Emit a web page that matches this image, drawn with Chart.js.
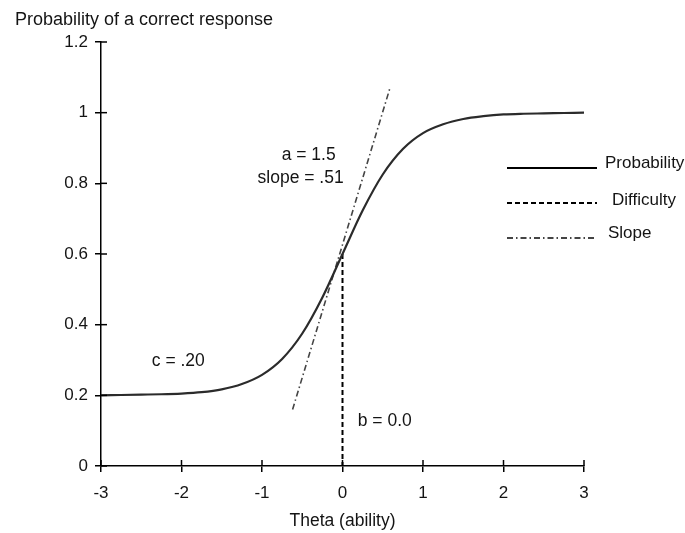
<!DOCTYPE html>
<html>
<head>
<meta charset="utf-8">
<script src="https://cdn.jsdelivr.net/npm/chart.js@4/dist/chart.umd.min.js"></script>
<style>
  html, body { margin: 0; padding: 0; background: #fff; }
  canvas { display: block; }
</style>
</head>
<body>
<canvas id="c" width="685" height="533"></canvas>
<script>
// ---- data ----
const thetaValues = [-3, -2.75, -2.5, -2.25, -2, -1.75, -1.5, -1.25, -1, -0.75, -0.5, -0.25, 0, 0.25, 0.5, 0.75, 1, 1.25, 1.5, 1.75, 2, 2.25, 2.5, 2.75, 3];
const probabilityValues = [0.200, 0.201, 0.202, 0.203, 0.205, 0.209, 0.217, 0.232, 0.258, 0.303, 0.375, 0.477, 0.600, 0.723, 0.825, 0.897, 0.942, 0.967, 0.982, 0.990, 0.995, 0.997, 0.998, 0.999, 1.000];
const difficultyTheta = [0, 0];
const difficultyValues = [0.6, 0];
const slopeTheta = [-0.62, 0.59];
const slopeValues = [0.16, 1.07];
const seriesLabels = ['Probability', 'Difficulty', 'Slope'];
const xTickLabels = ['-3', '-2', '-1', '0', '1', '2', '3'];
const yTickLabels = ['0', '0.2', '0.4', '0.6', '0.8', '1', '1.2'];
const yAxisTitle = 'Probability of a correct response';
const xAxisTitle = 'Theta (ability)';
const annotations = [
  { text: 'a = 1.5', x: -0.42, y: 0.881 },
  { text: 'slope = .51', x: -0.52, y: 0.816 },
  { text: 'c = .20', x: -2.04, y: 0.2955 },
  { text: 'b = 0.0', x: 0.525, y: 0.1255 }
];

const FAMILY = '"Liberation Sans", Arial, sans-serif';
const TEXT = '#141414';

function pts(xs, ys) { return xs.map((x, i) => ({ x: x, y: ys[i] })); }

const decorPlugin = {
  id: 'decor',
  afterDraw(chart) {
    const ctx = chart.ctx;
    const xs = chart.scales.x, ys = chart.scales.y;
    const area = chart.chartArea;
    ctx.save();
    // inner halves of the crossing tick marks
    ctx.strokeStyle = '#000';
    ctx.lineWidth = 1.5;
    ctx.setLineDash([]);
    xs.ticks.forEach(t => {
      const px = xs.getPixelForValue(t.value);
      ctx.beginPath(); ctx.moveTo(px, area.bottom); ctx.lineTo(px, area.bottom - 6); ctx.stroke();
    });
    ys.ticks.forEach(t => {
      const py = ys.getPixelForValue(t.value);
      ctx.beginPath(); ctx.moveTo(area.left, py); ctx.lineTo(area.left + 6, py); ctx.stroke();
    });
    // y axis title (horizontal, top-left)
    ctx.fillStyle = TEXT;
    ctx.textBaseline = 'middle';
    ctx.textAlign = 'left';
    ctx.font = '18px ' + FAMILY;
    ctx.fillText(yAxisTitle, 15, 20);
    // annotations
    ctx.textAlign = 'center';
    ctx.font = '17.5px ' + FAMILY;
    annotations.forEach(a => {
      ctx.fillText(a.text, xs.getPixelForValue(a.x), ys.getPixelForValue(a.y));
    });
    // legend
    ctx.font = '17px ' + FAMILY;
    const legendX0 = area.right - 77, legendX1 = area.right + 13;
    const rows = [
      { y: 168, ty: 163, tx: 605 },
      { y: 203, ty: 200, tx: 612 },
      { y: 238, ty: 233, tx: 608 }
    ];
    chart.data.datasets.forEach((ds, i) => {
      const r = rows[i];
      ctx.strokeStyle = i === 0 ? '#000' : ds.borderColor;
      ctx.lineWidth = i === 2 ? 2 : ds.borderWidth;
      ctx.setLineDash(ds.borderDash || []);
      ctx.beginPath(); ctx.moveTo(legendX0, r.y); ctx.lineTo(legendX1, r.y); ctx.stroke();
      ctx.setLineDash([]);
      ctx.textAlign = 'left';
      ctx.fillStyle = TEXT;
      ctx.fillText(ds.label, r.tx, r.ty);
    });
    ctx.restore();
  }
};

new Chart(document.getElementById('c'), {
  type: 'line',
  data: {
    datasets: [
      {
        label: seriesLabels[0],
        data: pts(thetaValues, probabilityValues),
        borderColor: '#2b2b2b',
        borderWidth: 2.2,
        pointRadius: 0,
        tension: 0.4,
        cubicInterpolationMode: 'monotone',
        fill: false
      },
      {
        label: seriesLabels[1],
        data: pts(difficultyTheta, difficultyValues),
        borderColor: '#000',
        borderWidth: 2,
        borderDash: [5, 3],
        pointRadius: 0,
        fill: false
      },
      {
        label: seriesLabels[2],
        data: pts(slopeTheta, slopeValues),
        borderColor: '#444',
        borderWidth: 1.6,
        borderDash: [6, 3, 1.5, 3],
        pointRadius: 0,
        fill: false
      }
    ]
  },
  options: {
    responsive: false,
    animation: false,
    layout: { padding: { left: 0, right: 101, top: 42, bottom: 0 } },
    plugins: { legend: { display: false }, tooltip: { enabled: false }, title: { display: false } },
    scales: {
      x: {
        type: 'linear',
        min: -3, max: 3,
        afterFit(scale) { scale.height = 67; },
        grid: { display: true, drawOnChartArea: false, drawTicks: true, tickLength: 6, color: '#000', lineWidth: 1.5 },
        border: { display: true, color: '#000', width: 1.5 },
        ticks: {
          stepSize: 1,
          padding: 11,
          color: TEXT,
          font: { family: FAMILY, size: 17 },
          callback: (v, i) => xTickLabels[i]
        },
        title: {
          display: true,
          text: xAxisTitle,
          color: TEXT,
          font: { family: FAMILY, size: 17.5 },
          padding: { top: 0, bottom: 1 }
        }
      },
      y: {
        type: 'linear',
        min: 0, max: 1.2,
        afterFit(scale) { scale.width = 101; },
        grid: { display: true, drawOnChartArea: false, drawTicks: true, tickLength: 6, color: '#000', lineWidth: 1.5 },
        border: { display: true, color: '#000', width: 1.5 },
        ticks: {
          stepSize: 0.2,
          padding: 7,
          color: TEXT,
          font: { family: FAMILY, size: 17 },
          callback: (v, i) => yTickLabels[i]
        }
      }
    }
  },
  plugins: [decorPlugin]
});
</script>
</body>
</html>
